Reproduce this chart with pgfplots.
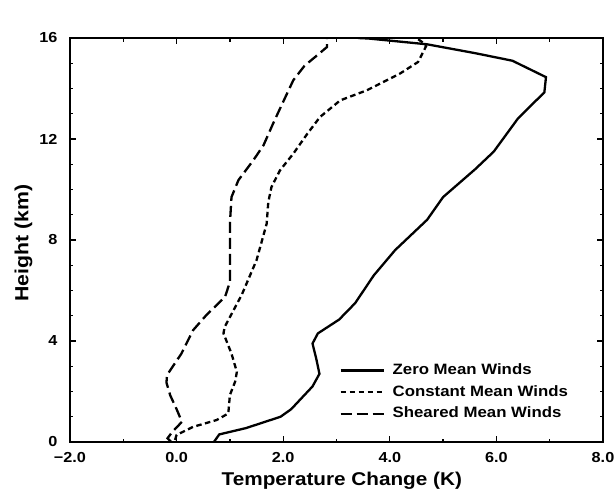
\documentclass[border=0pt]{standalone}
\usepackage{fontspec}
\setmainfont{Liberation Sans}[FakeStretch=1.12]
\usepackage{pgfplots}
\pgfplotsset{compat=1.18}

\begin{document}
\begin{tikzpicture}[x=1pt,y=1pt]
\begin{axis}[
  scale only axis,
  width=533pt, height=404pt,
  xmin=-2, xmax=8, ymin=0, ymax=16,
  xtick={-2,0,2,4,6,8},
  xticklabels={{−2.0},{0.0},{2.0},{4.0},{6.0},{8.0}},
  minor xtick={-1,1,3,5,7},
  ytick={0,4,8,12,16},
  minor ytick={1,2,3,5,6,7,9,10,11,13,14,15},
  tick align=inside,
  major tick length=6pt,
  minor tick length=3.5pt,
  every tick/.style={black, line width=1.3pt},
  axis line style={line width=2pt},
  y tick label style={/pgf/number format/assume math mode=true, xshift=-9pt},
  x tick label style={yshift=-7pt},
  tick label style={font=\fontsize{14.5}{16}\selectfont\bfseries},
  xlabel={Temperature Change (K)},
  ylabel={Height (km)},
  xlabel style={font=\fontsize{18.5}{22}\selectfont\bfseries,
    at={(axis description cs:0.51,0)}, anchor=base, yshift=-43pt},
  ylabel style={font=\fontsize{19}{22}\selectfont\bfseries,
    at={(axis description cs:-0.078,0.492)}, anchor=base},
  legend cell align=left,
  legend style={draw=none, fill=none, at={(axis description cs:0.505,0.197)},
    anchor=north west, inner sep=0pt, row sep=6pt,
    font=\fontsize{15}{17}\selectfont\bfseries,
    nodes={inner sep=1pt, text height=10.7pt, text depth=3pt},
    /tikz/every odd column/.append style={column sep=7pt}},
  legend image code/.code={\draw[#1] (0pt,0pt) -- (43pt,0pt);},
]
% zero mean winds
\addplot[black, line width=2.3pt] coordinates {
  (0.70,0.00) (0.80,0.30) (1.30,0.55) (1.95,1.00) (2.15,1.30) (2.35,1.75)
  (2.55,2.20) (2.68,2.70) (2.62,3.30) (2.55,3.90) (2.65,4.30) (3.05,4.85)
  (3.35,5.50) (3.70,6.60) (4.10,7.60) (4.70,8.80) (5.00,9.70) (5.60,10.80)
  (5.95,11.50) (6.40,12.80) (6.90,13.85) (6.93,14.45) (6.30,15.10)
  (5.60,15.40) (4.70,15.75) (3.60,15.98) (3.40,16.00)
};
\addlegendentry{Zero Mean Winds}
% constant mean winds
\addplot[black, line width=2.3pt, dash pattern=on 5.5pt off 3.5pt] coordinates {
  (-0.03,0.08) (0.00,0.28) (0.31,0.60) (0.75,0.87) (0.97,1.13) (1.00,1.86)
  (1.10,2.40) (1.13,2.78) (1.03,3.50) (0.88,4.30) (0.90,4.55) (1.22,5.82)
  (1.50,7.20) (1.69,8.65) (1.72,9.50) (1.78,10.10) (1.94,10.76) (2.19,11.42)
  (2.45,12.20) (2.69,12.87) (3.07,13.53) (3.57,13.93) (4.19,14.59)
  (4.53,15.05) (4.68,15.67) (4.60,15.85) (4.50,16.00)
};
\addlegendentry{Constant Mean Winds}
% sheared mean winds
\addplot[black, line width=2.3pt, dash pattern=on 11pt off 5pt] coordinates {
  (-0.10,0.00) (-0.17,0.15) (-0.08,0.40) (0.10,0.80) (0.00,1.30)
  (-0.12,1.85) (-0.19,2.35) (-0.18,2.65) (0.09,3.50) (0.31,4.43)
  (0.56,5.03) (0.91,5.75) (1.00,6.34) (1.00,8.65) (1.03,9.70) (1.16,10.37)
  (1.44,11.16) (1.63,11.75) (1.81,12.61) (1.97,13.34) (2.19,14.33)
  (2.40,14.90) (2.60,15.25) (2.82,15.64) (2.82,16.00)
};
\addlegendentry{Sheared Mean Winds}
\end{axis}
\pgfresetboundingbox
\path (-70pt,-49pt) rectangle (544pt,442pt);
\end{tikzpicture}
\end{document}
